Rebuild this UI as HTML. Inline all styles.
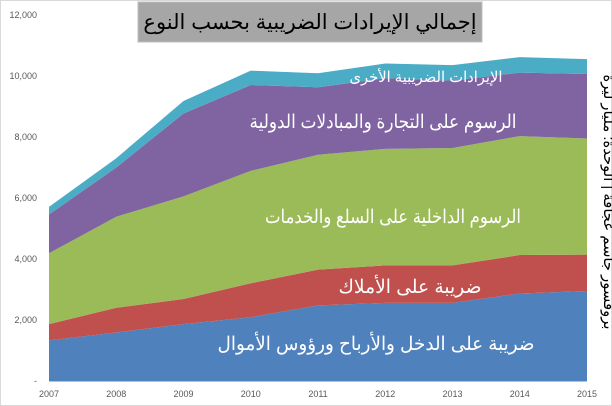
<!DOCTYPE html>
<html><head><meta charset="utf-8"><style>
body{margin:0;background:#fff;}
svg{display:block;font-family:"Liberation Sans","Noto Sans CJK SC",sans-serif;}
</style></head><body>
<svg width="612" height="406" viewBox="0 0 612 406">
<rect x="0.5" y="0.5" width="611" height="405" fill="#fff" stroke="#d9d9d9"/>
<g id="areas"></g>
<g id="yaxis"></g>
<g id="xaxis"></g>
<rect x="138" y="2" width="344" height="40" fill="#a6a6a6" stroke="#bfbfbf"/>
<text x="310" y="29" text-anchor="middle" font-size="21" fill="#000" direction="rtl">إجمالي الإيرادات الضريبية بحسب النوع</text>
<text x="426" y="82" text-anchor="middle" font-size="15" fill="#fff" direction="rtl" textLength="153" lengthAdjust="spacingAndGlyphs">الإيرادات الضريبية الأخرى</text>
<text x="383" y="128" text-anchor="middle" font-size="19" fill="#fff" direction="rtl" textLength="267" lengthAdjust="spacingAndGlyphs">الرسوم على التجارة والمبادلات الدولية</text>
<text x="393" y="223" text-anchor="middle" font-size="19" fill="#fff" direction="rtl" textLength="256" lengthAdjust="spacingAndGlyphs">الرسوم الداخلية على السلع والخدمات</text>
<text x="410" y="293" text-anchor="middle" font-size="19" fill="#fff" direction="rtl" textLength="143" lengthAdjust="spacingAndGlyphs">ضريبة على الأملاك</text>
<text x="376" y="350" text-anchor="middle" font-size="19" fill="#fff" direction="rtl" textLength="317" lengthAdjust="spacingAndGlyphs">ضريبة على الدخل والأرباح ورؤوس الأموال</text>
<text transform="translate(604,202) rotate(90)" text-anchor="middle" font-size="15" fill="#000" direction="rtl" textLength="255" lengthAdjust="spacingAndGlyphs">بروفسور جاسم عجاقة | الوحدة: مليار ليرة</text>
</svg>
<script>
const years=["2007","2008","2009","2010","2011","2012","2013","2014","2015"];
const incomeTax=[1330,1590,1865,2090,2480,2560,2560,2870,2950];
const propertyTax=[535,810,825,1115,1170,1230,1230,1260,1195];
const goodsServicesTax=[2325,2985,3365,3685,3770,3820,3850,3900,3805];
const tradeTax=[1270,1615,2715,2815,2210,2320,2210,2080,2115];
const otherTax=[250,305,410,470,460,480,505,510,490];
const yTicks=[0,2000,4000,6000,8000,10000,12000];
const yTickLabels=["-","2,000","4,000","6,000","8,000","10,000","12,000"];
const NS="http://www.w3.org/2000/svg";
const x=i=>49+i*(587-49)/(years.length-1);
const y=v=>381-v*366/12000;
const series=[[incomeTax,"#4f81bd","area-income-tax"],[propertyTax,"#c0504d","area-property-tax"],[goodsServicesTax,"#9bbb59","area-goods-services-tax"],[tradeTax,"#8064a2","area-trade-tax"],[otherTax,"#4bacc6","area-other-tax"]];
let base=years.map(()=>0);
const areas=document.getElementById("areas");
series.forEach(([vals,col,name])=>{
  const top=base.map((b,i)=>b+vals[i]);
  let d="M"+top.map((t,i)=>x(i)+","+y(t)).join("L");
  for(let i=years.length-1;i>=0;i--)d+="L"+x(i)+","+y(base[i]);
  const p=document.createElementNS(NS,"path");
  p.setAttribute("d",d+"Z");p.setAttribute("fill",col);
  
  
  areas.appendChild(p);base=top;
});
const ya=document.getElementById("yaxis");
yTicks.forEach((v,i)=>{
  const t=document.createElementNS(NS,"text");
  t.setAttribute("x",37);t.setAttribute("y",y(v)+3);t.setAttribute("text-anchor","end");
  t.setAttribute("font-size","9");t.setAttribute("fill","#595959");
  t.textContent=yTickLabels[i];
  
  
  ya.appendChild(t);
});
const xa=document.getElementById("xaxis");
const ln=document.createElementNS(NS,"line");
ln.setAttribute("x1",49);ln.setAttribute("x2",587);ln.setAttribute("y1",381.5);ln.setAttribute("y2",381.5);ln.setAttribute("stroke","#bfbfbf");


xa.appendChild(ln);
years.forEach((yr,i)=>{
  const t=document.createElementNS(NS,"text");
  t.setAttribute("x",x(i));t.setAttribute("y",397);t.setAttribute("text-anchor","middle");
  t.setAttribute("font-size","9");t.setAttribute("fill","#595959");
  t.textContent=yr;
  
  
  xa.appendChild(t);
});
</script>
</body></html>
